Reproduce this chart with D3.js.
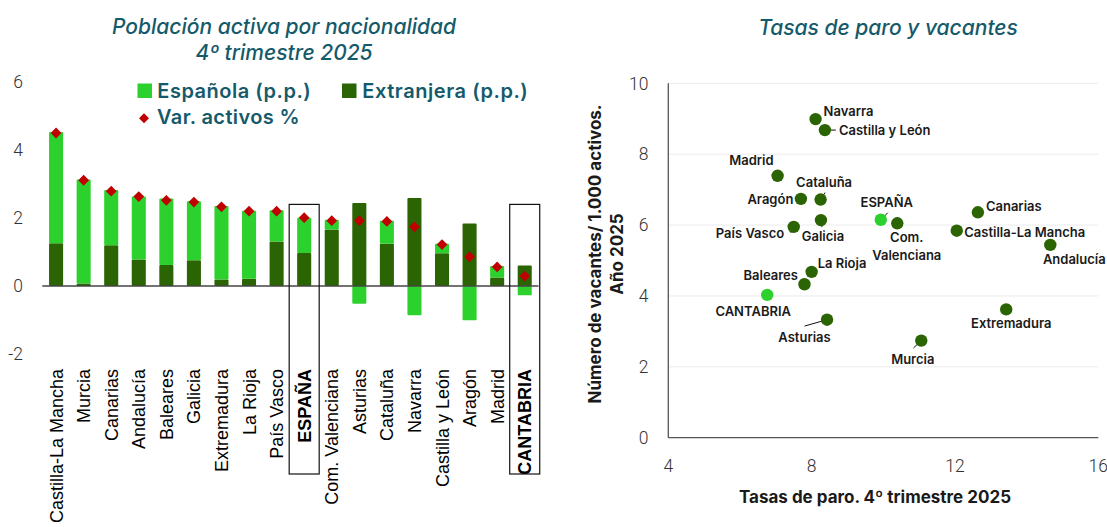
<!DOCTYPE html>
<html><head><meta charset="utf-8">
<script src="https://cdn.jsdelivr.net/npm/d3@7"></script>
<style>body{margin:0;background:#fff}svg{display:block}</style>
</head><body>
<svg id="c" width="1107" height="527"></svg>
<script>
// ---------- DATA: left chart ----------
const regions = ["Castilla-La Mancha","Murcia","Canarias","Andalucía","Baleares","Galicia","Extremadura","La Rioja","País Vasco","ESPAÑA","Com. Valenciana","Asturias","Cataluña","Navarra","Castilla y León","Aragón","Madrid","CANTABRIA"];
const espanola   = [3.27,3.06,1.62,1.85,1.95,1.73,2.16,2.00,0.92,1.04,0.29,-0.52,0.68,-0.86,0.28,-1.01,0.34,-0.27];
const extranjera = [1.26,0.07,1.20,0.78,0.62,0.76,0.19,0.21,1.31,0.97,1.66,2.44,1.24,2.59,0.96,1.84,0.25,0.60];
const varActivos = [4.50,3.11,2.79,2.63,2.52,2.47,2.33,2.20,2.20,2.01,1.92,1.92,1.90,1.74,1.22,0.86,0.56,0.29];
const highlighted = ["ESPAÑA","CANTABRIA"];
const leftTicks = [-2,0,2,4,6];
const leftTitle = ["Población activa por nacionalidad","4º trimestre 2025"];
const legendLabels = ["Española (p.p.)","Extranjera (p.p.)","Var. activos %"];

// ---------- DATA: right chart ----------
const scatterRegions = ["Navarra","Castilla y León","Madrid","Aragón","Cataluña","Galicia","País Vasco","La Rioja","Baleares","CANTABRIA","Asturias","Murcia","Extremadura","ESPAÑA","Com. Valenciana","Canarias","Castilla-La Mancha","Andalucía"];
const tasaParo = [8.11,8.37,7.05,7.70,8.25,8.26,7.50,8.00,7.80,6.76,8.43,11.06,13.43,9.93,10.39,12.64,12.05,14.66];
const vacantes = [8.99,8.68,7.39,6.74,6.72,6.14,5.95,4.68,4.33,4.03,3.33,2.74,3.62,6.15,6.05,6.36,5.84,5.44];
const rightXTicks = [4,8,12,16];
const rightYTicks = [0,2,4,6,8,10];
const rightTitle = "Tasas de paro y vacantes";
const rightXTitle = "Tasas de paro. 4º trimestre 2025";
const rightYTitle = ["Número de vacantes/ 1.000 activos.","Año 2025"];

// ---------- STYLE / LAYOUT ----------
const C = {esp:"#2dd12d", ext:"#2a6403", red:"#c00000", teal:"#155a6a", axis:"#555", tick:"#333"};
const labelLayout = {
  "Navarra":{dx:8,dy:-3,a:"start"},
  "Castilla y León":{dx:14,dy:5,a:"start",lead:[11,0]},
  "Madrid":{dx:-4,dy:-11,a:"end"},
  "Aragón":{dx:-7.5,dy:5,a:"end"},
  "Cataluña":{dx:3.5,dy:-12.5,a:"middle",lead:[4.5,-7]},
  "Galicia":{dx:2,dy:21,a:"middle",lead:[1,7]},
  "País Vasco":{dx:-9.5,dy:11.5,a:"end",lead:[-3,6]},
  "La Rioja":{dx:6,dy:-4,a:"start"},
  "Baleares":{dx:-6.5,dy:-4,a:"end"},
  "CANTABRIA":{dx:-14,dy:21.5,a:"middle"},
  "Asturias":{dx:-22.5,dy:22.5,a:"middle",lead:[-22.5,6.4]},
  "Murcia":{dx:-8.5,dy:23.5,a:"middle",lead:[-7.8,7.4]},
  "Extremadura":{dx:5,dy:18.7,a:"middle"},
  "ESPAÑA":{dx:6,dy:-12.5,a:"middle",lead:[7,-7]},
  "Com. Valenciana":{dx:9.5,dy:18.7,a:"middle",lines:["Com.","Valenciana"]},
  "Canarias":{dx:8,dy:-1.3,a:"start"},
  "Castilla-La Mancha":{dx:7.5,dy:6.3,a:"start"},
  "Andalucía":{dx:24,dy:19,a:"middle"}
};

const svg = d3.select("#c");
function fitWidth(sel, w){
  sel.each(function(){
    const len = this.getComputedTextLength();
    const n = this.textContent.length;
    d3.select(this).attr("letter-spacing", ((w-len)/n).toFixed(2));
  });
}

// ================= LEFT CHART =================
const x = d3.scaleBand().domain(regions).range([42.3,538.5]).paddingInner(0.49).paddingOuter(0.245);
const y = d3.scaleLinear().domain([-2,6]).range([354,82]);

const rows = regions.map((r,i)=>({region:r, extranjera:extranjera[i], espanola:espanola[i], v:varActivos[i]}));
const stack = d3.stack().keys(["extranjera","espanola"]).offset(d3.stackOffsetDiverging)(rows);

const gL = svg.append("g");
gL.selectAll("text.yt").data(leftTicks).join("text")
  .attr("x",23).attr("y",d=>y(d)).attr("dy","0.36em").attr("text-anchor","end")
  .attr("font-family","Roboto").attr("font-weight",300).attr("font-size",17.5).attr("fill",C.tick)
  .text(d=>d);

stack.forEach(layer=>{
  gL.append("g").selectAll("rect").data(layer).join("rect")
    .attr("x",d=>x(d.data.region)).attr("width",x.bandwidth())
    .attr("y",d=>y(Math.max(d[0],d[1]))).attr("height",d=>Math.abs(y(d[0])-y(d[1])))
    .attr("rx",1)
    .attr("fill", layer.key==="espanola"?C.esp:C.ext);
});
gL.append("line").attr("x1",x.range()[0]).attr("x2",x.range()[1]).attr("y1",y(0)).attr("y2",y(0))
  .attr("stroke","#444").attr("stroke-width",1.3);
const diamond = d3.symbol(d3.symbolSquare, 58);
gL.selectAll("path.dm").data(rows).join("path")
  .attr("d",diamond)
  .attr("transform",d=>`translate(${x(d.region)+x.bandwidth()/2},${y(d.v)}) rotate(45)`)
  .attr("fill",C.red);
gL.selectAll("text.cat").data(regions).join("text")
  .attr("transform",d=>`translate(${x(d)+x.bandwidth()/2+6.5},369) rotate(-90)`)
  .attr("text-anchor","end")
  .attr("font-family","Liberation Sans, Arial").attr("font-size",18)
  .attr("font-weight",d=>highlighted.includes(d)?"bold":"normal")
  .attr("fill","#000").text(d=>d);
highlighted.forEach(h=>{
  const cx = x(h)+x.bandwidth()/2;
  gL.append("rect").attr("x",cx-15).attr("y",y(2.4)).attr("width",30).attr("height",474-y(2.4))
    .attr("fill","none").attr("stroke","#111").attr("stroke-width",1.2);
});
gL.selectAll("text.tt").data(leftTitle).join("text")
  .attr("x",284).attr("y",(d,i)=>34+i*25.5).attr("text-anchor","middle")
  .attr("font-family","Inter").attr("font-style","italic").attr("font-weight",500)
  .attr("font-size",21).attr("fill",C.teal).text(d=>d);
const lg = gL.append("g").attr("font-family","Inter").attr("font-weight",600).attr("font-size",20).attr("fill",C.teal);
lg.append("rect").attr("x",137.5).attr("y",83.5).attr("width",14.5).attr("height",14.5).attr("fill",C.esp);
lg.append("rect").attr("x",342).attr("y",83.5).attr("width",14.5).attr("height",14.5).attr("fill",C.ext);
lg.append("path").attr("d",d3.symbol(d3.symbolSquare,50)).attr("transform","translate(144,118.3) rotate(45)").attr("fill",C.red);
const l1 = lg.append("text").attr("x",157.3).attr("y",97.5).text(legendLabels[0]);
const l2 = lg.append("text").attr("x",362.3).attr("y",97.5).text(legendLabels[1]);
const l3 = lg.append("text").attr("x",157).attr("y",123.5).text(legendLabels[2]);
fitWidth(l1,154); fitWidth(l2,166); fitWidth(l3,143);

// ================= RIGHT CHART =================
const xs = d3.scaleLinear().domain([4,16]).range([668.3,1098.3]);
const ys = d3.scaleLinear().domain([0,10]).range([437.7,83.3]);
const gR = svg.append("g");
gR.selectAll("line.grid").data(rightYTicks.filter(d=>d>0)).join("line")
  .attr("x1",xs(4)).attr("x2",xs(16)).attr("y1",d=>ys(d)).attr("y2",d=>ys(d))
  .attr("stroke","#ebebeb").attr("stroke-width",1);
gR.append("line").attr("x1",xs(4)).attr("x2",xs(4)).attr("y1",ys(0)).attr("y2",ys(10)).attr("stroke",C.axis).attr("stroke-width",1.3);
gR.append("line").attr("x1",xs(4)).attr("x2",xs(16)).attr("y1",ys(0)).attr("y2",ys(0)).attr("stroke",C.axis).attr("stroke-width",1.3);
gR.selectAll("text.yt").data(rightYTicks).join("text")
  .attr("x",648.5).attr("y",d=>ys(d)).attr("dy","0.36em").attr("text-anchor","end")
  .attr("font-family","Roboto").attr("font-weight",300).attr("font-size",17.5).attr("fill",C.tick).text(d=>d);
gR.selectAll("text.xt").data(rightXTicks).join("text")
  .attr("x",d=>xs(d)).attr("y",465.7).attr("dy","0.36em").attr("text-anchor","middle")
  .attr("font-family","Roboto").attr("font-weight",300).attr("font-size",17.5).attr("fill",C.tick).text(d=>d);
gR.append("text").attr("x",888).attr("y",35).attr("text-anchor","middle")
  .attr("font-family","Inter").attr("font-style","italic").attr("font-weight",500)
  .attr("font-size",21).attr("fill",C.teal).text(rightTitle);
gR.append("text").attr("x",875).attr("y",502.5).attr("text-anchor","middle")
  .attr("font-family","Inter").attr("font-weight",700).attr("font-size",17).attr("fill","#1a1a1a").text(rightXTitle);
gR.selectAll("text.ytl").data(rightYTitle).join("text")
  .attr("transform",(d,i)=>`translate(${601+i*22},254) rotate(-90)`).attr("text-anchor","middle")
  .attr("font-family","Inter").attr("font-weight",700).attr("font-size",17).attr("fill","#1a1a1a").text(d=>d);

const pts = scatterRegions.map((r,i)=>({r, px:xs(tasaParo[i]), py:ys(vacantes[i])}));
gR.selectAll("line.lead").data(pts.filter(p=>labelLayout[p.r].lead)).join("line")
  .attr("x1",p=>p.px).attr("y1",p=>p.py)
  .attr("x2",p=>p.px+labelLayout[p.r].lead[0]).attr("y2",p=>p.py+labelLayout[p.r].lead[1])
  .attr("stroke","#111").attr("stroke-width",1);
gR.selectAll("circle").data(pts).join("circle")
  .attr("cx",p=>p.px).attr("cy",p=>p.py).attr("r",6.2)
  .attr("fill",p=>highlighted.includes(p.r)?C.esp:C.ext);
const lbl = gR.selectAll("text.lbl").data(pts).join("text")
  .attr("x",p=>p.px+labelLayout[p.r].dx).attr("y",p=>p.py+labelLayout[p.r].dy)
  .attr("text-anchor",p=>labelLayout[p.r].a)
  .attr("font-family","Inter").attr("font-weight",600).attr("font-size",13).attr("fill","#1a1a1a");
lbl.each(function(p){
  const L = labelLayout[p.r];
  const t = d3.select(this);
  if(L.lines){
    L.lines.forEach((s,i)=>t.append("tspan").attr("x",p.px+L.dx).attr("dy",i?18:0).text(s));
  } else t.text(p.r);
});
</script>
</body></html>
